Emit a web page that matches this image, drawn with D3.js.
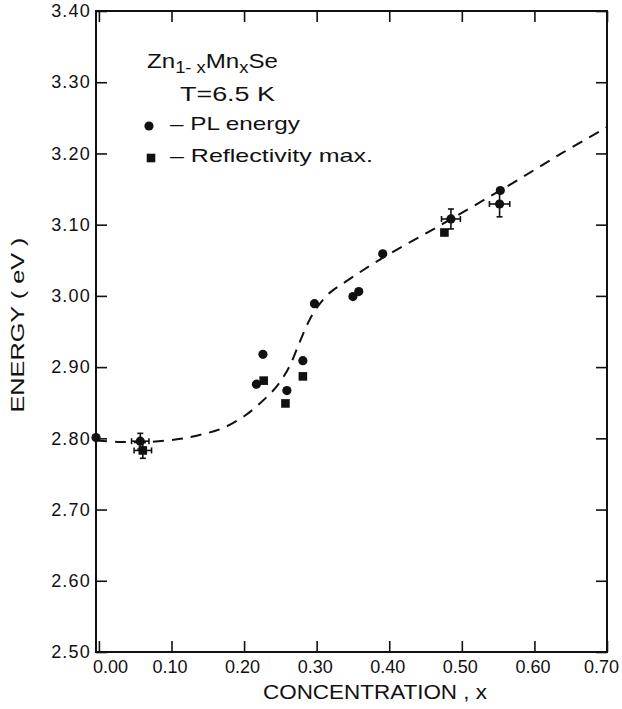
<!DOCTYPE html>
<html>
<head>
<meta charset="utf-8">
<script src="https://cdn.jsdelivr.net/npm/d3@7"></script>
<style>
  html, body { margin: 0; padding: 0; background: #fff; }
  svg { display: block; }
  text { font-family: "Liberation Sans", Arial, sans-serif; fill: #111; }
</style>
</head>
<body>
<svg id="chart" width="622" height="709"></svg>
<script>
// ---- data ----
const xTicks = [0.0, 0.1, 0.2, 0.3, 0.4, 0.5, 0.6, 0.7];
const yTicks = [2.5, 2.6, 2.7, 2.8, 2.9, 3.0, 3.1, 3.2, 3.3, 3.4];

// PL energy (filled circles)
const plX = [-0.004, 0.057, 0.217, 0.226, 0.259, 0.281, 0.297, 0.350, 0.358, 0.391, 0.485, 0.553, 0.552];
const plE = [2.801, 2.796, 2.876, 2.918, 2.867, 2.909, 2.989, 2.999, 3.006, 3.059, 3.108, 3.148, 3.129];

// Reflectivity maximum (filled squares)
const rfX = [0.0605, 0.227, 0.257, 0.281, 0.476];
const rfE = [2.783, 2.881, 2.849, 2.887, 3.089];

// error bars (centre, half-widths)
const errX  = [0.057, 0.0605, 0.485, 0.552];
const errE  = [2.796, 2.783, 3.108, 3.129];
const errDx = [0.012, 0.012, 0.013, 0.014];
const errDe = [0.011, 0.011, 0.014, 0.018];

// dashed guide curve
const curveX = [-0.004, 0.030, 0.070, 0.110, 0.140, 0.170, 0.200, 0.225, 0.245, 0.262, 0.277, 0.291, 0.305, 0.320, 0.340, 0.387, 0.470, 0.566, 0.639, 0.700];
const curveE = [2.797, 2.795, 2.795, 2.799, 2.805, 2.814, 2.831, 2.852, 2.873, 2.900, 2.936, 2.968, 2.990, 3.006, 3.020, 3.051, 3.099, 3.156, 3.201, 3.237];

// ---- layout ----
const svg = d3.select("#chart");
const L = 96, R = 607, T = 11, B = 652;
const x = d3.scaleLinear().domain([-0.004, 0.70]).range([L, R]);
const y = d3.scaleLinear().domain([2.5, 3.4]).range([B, T]);
const fmt = d3.format(".2f");

// frame
svg.append("rect").attr("x", L).attr("y", T).attr("width", R - L).attr("height", B - T)
  .attr("fill", "none").attr("stroke", "#111").attr("stroke-width", 2);

// axes (inward ticks)
const axB = svg.append("g").attr("transform", `translate(0,${B})`)
  .call(d3.axisBottom(x).tickValues(xTicks).tickSize(-11).tickPadding(8).tickFormat(fmt));
const axT = svg.append("g").attr("transform", `translate(0,${T})`)
  .call(d3.axisTop(x).tickValues(xTicks).tickSize(-11).tickFormat(""));
const axL = svg.append("g").attr("transform", `translate(${L},0)`)
  .call(d3.axisLeft(y).tickValues(yTicks).tickSize(-11).tickPadding(5).tickFormat(fmt));
const axR = svg.append("g").attr("transform", `translate(${R},0)`)
  .call(d3.axisRight(y).tickValues(yTicks).tickSize(-11).tickFormat(""));

[axB, axT, axL, axR].forEach(g => {
  g.select(".domain").remove();
  g.selectAll(".tick line").attr("stroke", "#111").attr("stroke-width", 1.6);
});
axB.selectAll(".tick text").attr("font-size", 18).attr("fill", "#111")
  .attr("font-family", "Liberation Sans, Arial, sans-serif")
  .attr("dx", (d, i) => i === 0 ? 11 : (i === xTicks.length - 1 ? -6 : -2));
axL.selectAll(".tick text").attr("font-size", 18).attr("fill", "#111")
  .attr("font-family", "Liberation Sans, Arial, sans-serif")
  .attr("letter-spacing", 1.2);

// axis titles
svg.append("text").attr("x", 263).attr("y", 699)
  .attr("font-size", 20).attr("textLength", 224).attr("lengthAdjust", "spacingAndGlyphs")
  .text("CONCENTRATION , x");
svg.append("text").attr("transform", "translate(24,325) rotate(-90)")
  .attr("text-anchor", "middle").attr("font-size", 19)
  .attr("textLength", 175).attr("lengthAdjust", "spacingAndGlyphs")
  .text("ENERGY ( eV )");

// dashed curve
const line = d3.line().x(d => x(d[0])).y(d => y(d[1])).curve(d3.curveCatmullRom.alpha(0.5));
svg.append("path").datum(curveX.map((v, i) => [v, curveE[i]]))
  .attr("d", line).attr("fill", "none").attr("stroke", "#111")
  .attr("stroke-width", 2).attr("stroke-dasharray", "11,8");

// error bars
const cap = 3;
const eb = svg.append("g").attr("stroke", "#111").attr("stroke-width", 1.6);
errX.forEach((ex, i) => {
  const cx = x(ex), cy = y(errE[i]);
  const x0 = x(ex - errDx[i]), x1 = x(ex + errDx[i]);
  const y0 = y(errE[i] - errDe[i]), y1 = y(errE[i] + errDe[i]);
  eb.append("line").attr("x1", x0).attr("x2", x1).attr("y1", cy).attr("y2", cy);
  eb.append("line").attr("x1", cx).attr("x2", cx).attr("y1", y0).attr("y2", y1);
  eb.append("line").attr("x1", x0).attr("x2", x0).attr("y1", cy - cap).attr("y2", cy + cap);
  eb.append("line").attr("x1", x1).attr("x2", x1).attr("y1", cy - cap).attr("y2", cy + cap);
  eb.append("line").attr("x1", cx - cap).attr("x2", cx + cap).attr("y1", y0).attr("y2", y0);
  eb.append("line").attr("x1", cx - cap).attr("x2", cx + cap).attr("y1", y1).attr("y2", y1);
});

// markers
svg.append("g").selectAll("circle").data(plX.map((v, i) => [v, plE[i]])).join("circle")
  .attr("cx", d => x(d[0])).attr("cy", d => y(d[1])).attr("r", 4.6).attr("fill", "#111");
const sq = 8.6;
svg.append("g").selectAll("rect").data(rfX.map((v, i) => [v, rfE[i]])).join("rect")
  .attr("x", d => x(d[0]) - sq / 2).attr("y", d => y(d[1]) - sq / 2)
  .attr("width", sq).attr("height", sq).attr("fill", "#111");

// legend / annotation
const t1 = svg.append("text").attr("x", 147).attr("y", 68).attr("font-size", 21)
  .attr("textLength", 131).attr("lengthAdjust", "spacingAndGlyphs");
t1.append("tspan").text("Zn");
t1.append("tspan").attr("dy", 5).attr("font-size", 16).text("1- x");
t1.append("tspan").attr("dy", -5).text("Mn");
t1.append("tspan").attr("dy", 5).attr("font-size", 16).text("x");
t1.append("tspan").attr("dy", -5).text("Se");

svg.append("text").attr("x", 180).attr("y", 101).attr("font-size", 20)
  .attr("textLength", 95).attr("lengthAdjust", "spacingAndGlyphs").text("T=6.5 K");

svg.append("circle").attr("cx", 149).attr("cy", 126).attr("r", 4.6).attr("fill", "#111");
svg.append("text").attr("x", 170).attr("y", 130).attr("font-size", 19)
  .attr("textLength", 130).attr("lengthAdjust", "spacingAndGlyphs").text("–  PL energy");

svg.append("rect").attr("x", 151 - sq / 2).attr("y", 158 - sq / 2).attr("width", sq).attr("height", sq).attr("fill", "#111");
svg.append("text").attr("x", 170).attr("y", 162).attr("font-size", 19)
  .attr("textLength", 203).attr("lengthAdjust", "spacingAndGlyphs").text("–  Reflectivity max.");
</script>
</body>
</html>
